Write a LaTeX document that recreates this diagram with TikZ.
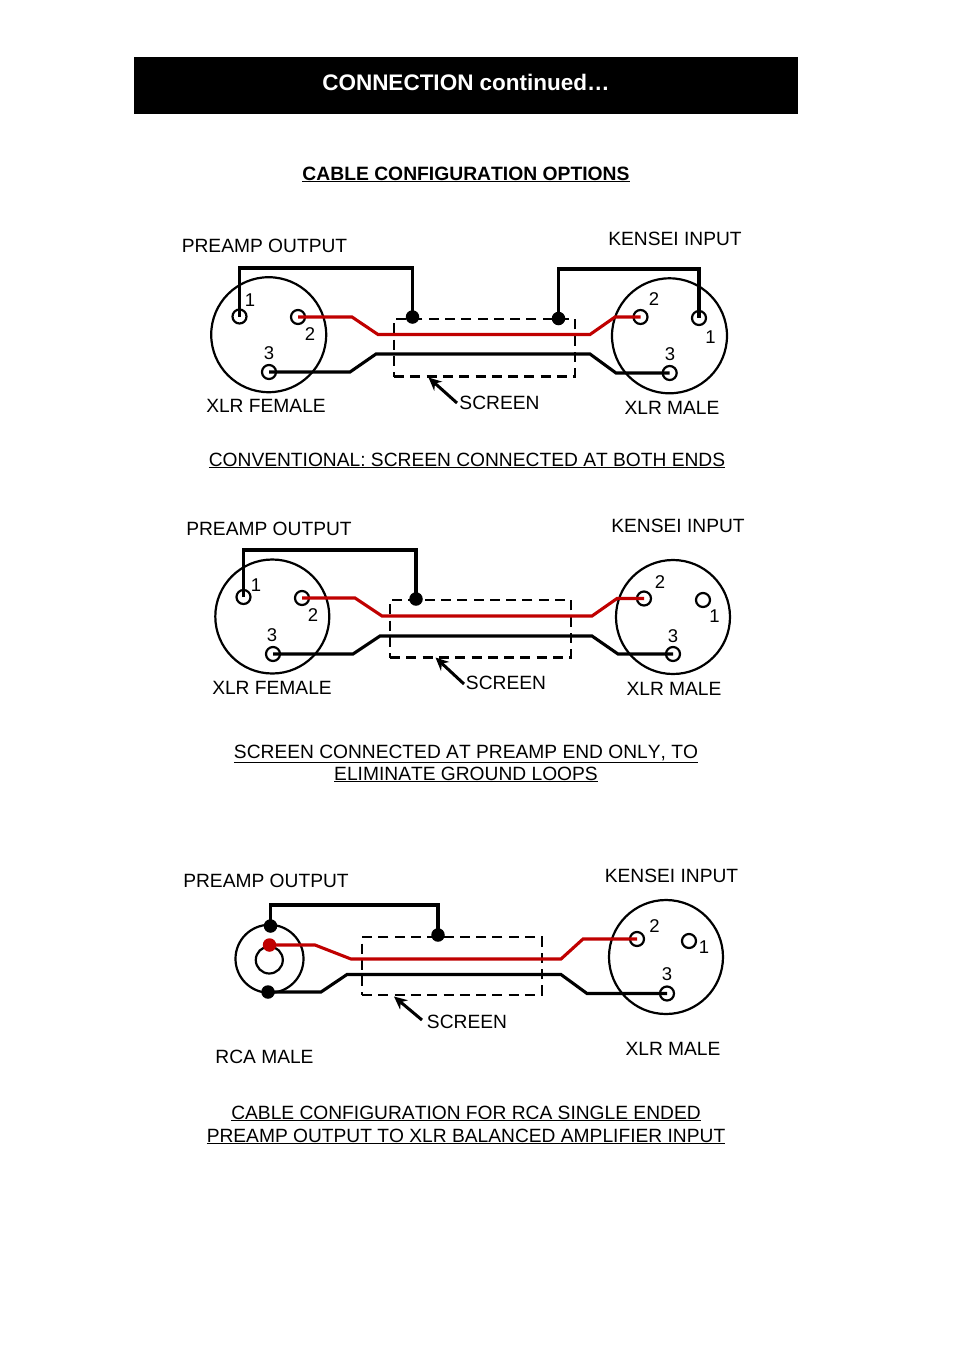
\documentclass[tikz,border=0pt]{standalone}
\usepackage{fontspec}
\setmainfont[Kerning=Off]{Liberation Sans}
\usetikzlibrary{arrows.meta}
\definecolor{wirered}{HTML}{C00000}
\tikzset{
  x=1pt,y=-1pt,
  body/.style={circle,draw,line width=2.2pt,minimum size=#1,inner sep=0pt},
  pin/.style={circle,draw,line width=2.2pt,minimum size=14pt,inner sep=0pt},
  dot/.style={circle,fill=#1,minimum size=13.5pt,inner sep=0pt},
  dot/.default=black,
  wire/.style={line width=3.1pt,line join=miter},
  redwire/.style={wire,draw=wirered},
  screenbox/.style={draw,line width=2.2pt,dash pattern=on 10pt off 6.3pt,minimum width=#1,minimum height=57.5pt,inner sep=0pt},
  lbl/.style={anchor=base,font=\fontsize{19.2}{22}\selectfont,inner sep=0pt},
  num/.style={anchor=base,font=\fontsize{18.5}{22}\selectfont,inner sep=0pt},
  head/.style={anchor=base,font=\fontsize{19.3}{24}\selectfont\bfseries,inner sep=0pt},
  pointer/.style={line width=3pt,-{Stealth[length=13pt,width=12pt]}}
}
\begin{document}
\begin{tikzpicture}
\useasboundingbox (0,0) rectangle (954,1350);
\fill[white] (0,0) rectangle (954,1350);
\node[fill=black,minimum width=664pt,minimum height=57pt,inner sep=0pt] (banner) at (466,85.5) {};
\node[head,text=white,font=\fontsize{22.5}{26}\selectfont\bfseries] (title) at (466,90) {CONNECTION continued…};
\node[head] (sub) at (466,180) {\underline{CABLE CONFIGURATION OPTIONS}};

% --- first
\node[body=115pt] (a1) at (268.7,334.7) {};
\node[pin] (a1p1) at (239.5,316.5) {};
\node[pin] (a1p2) at (298,317) {};
\node[pin] (a1p3) at (269,372) {};
\node[body=115pt] (a2) at (669.5,335.8) {};
\node[pin] (a2p2) at (640.5,317) {};
\node[pin] (a2p1) at (699,318) {};
\node[pin] (a2p3) at (669.7,373) {};
\node[screenbox=181pt] (abox) at (484.5,347.8) {};
\node[dot] (ad1) at (412.5,317) {};
\node[dot] (ad2) at (558.5,318.5) {};
\draw[wire] (a1p1.center) -- (239.5,268) -- (412.5,268) -- (ad1.center);
\draw[wire] (ad2.center) -- (558.5,269) -- (699,269) -- (a2p1.center);
\draw[redwire] (a1p2.center) -- (352,317) -- (378,334.5) -- (590,334.5) -- (615,317) -- (a2p2.center);
\draw[wire] (a1p3.center) -- (350,372) -- (376,354) -- (590,354) -- (616,373) -- (a2p3.center);
\coordinate (atail) at (457,403);
\coordinate (atip) at (428.5,377.5);
\draw[pointer] (atail) -- (atip);
\node[lbl] (apre) at (264.5,252) {PREAMP OUTPUT};
\node[lbl] (aken) at (675,245) {KENSEI INPUT};
\node[lbl] (axf) at (266,412) {XLR FEMALE};
\node[lbl] (asc) at (499.5,409) {SCREEN};
\node[lbl] (axm) at (672,414) {XLR MALE};
\node[lbl] (acap) at (467,466) {\underline{CONVENTIONAL: SCREEN CONNECTED AT BOTH ENDS}};
\node[num] (an1) at (250,306.5) {1};
\node[num] (an2) at (310,340) {2};
\node[num] (an3) at (269,359) {3};
\node[num] (an4) at (654,305) {2};
\node[num] (an5) at (710.5,343.5) {1};
\node[num] (an6) at (670,360) {3};

% --- second
\node[body=114pt] (b1) at (272.3,616.5) {};
\node[pin] (b1p1) at (243.5,597) {};
\node[pin] (b1p2) at (302,598) {};
\node[pin] (b1p3) at (273,654) {};
\node[body=114pt] (b2) at (673,617) {};
\node[pin] (b2p2) at (644,598.5) {};
\node[pin] (b2p1) at (703,600) {};
\node[pin] (b2p3) at (673,654) {};
\node[screenbox=181pt] (bbox) at (480.5,628.8) {};
\node[dot] (bd1) at (416,599) {};
\draw[wire] (b1p1.center) -- (243.5,550) -- (416,550) -- (bd1.center);
\draw[redwire] (b1p2.center) -- (355,598) -- (382,616) -- (592,616) -- (617,598.5) -- (b2p2.center);
\draw[wire] (b1p3.center) -- (353,654) -- (380,636) -- (592,636) -- (618,654) -- (b2p3.center);
\coordinate (btail) at (464,684);
\coordinate (btip) at (435.5,657.5);
\draw[pointer] (btail) -- (btip);
\node[lbl] (bpre) at (269,535) {PREAMP OUTPUT};
\node[lbl] (bken) at (678,532) {KENSEI INPUT};
\node[lbl] (bxf) at (272,694) {XLR FEMALE};
\node[lbl] (bsc) at (506,689) {SCREEN};
\node[lbl] (bxm) at (674,695) {XLR MALE};
\node[lbl] (bcap1) at (466,758) {\underline{SCREEN CONNECTED AT PREAMP END ONLY, TO}};
\node[lbl] (bcap2) at (466,780) {\underline{ELIMINATE GROUND LOOPS}};
\node[num] (bn1) at (256,591) {1};
\node[num] (bn2) at (313,621) {2};
\node[num] (bn3) at (272,641) {3};
\node[num] (bn4) at (660,588) {2};
\node[num] (bn5) at (714.5,622) {1};
\node[num] (bn6) at (673,642) {3};

% --- third
\node[body=68pt] (c1) at (269.5,958.8) {};
\node[body=27pt] (c1i) at (269.3,960) {};
\node[dot] (cdt) at (270.5,926) {};
\node[dot] (cdb) at (268,992) {};
\node[dot=wirered] (cdr) at (269.5,945) {};
\node[body=114pt] (c2) at (666,957) {};
\node[pin] (c2p2) at (637,939) {};
\node[pin] (c2p1) at (689,941) {};
\node[pin] (c2p3) at (667,993.5) {};
\node[screenbox=180pt] (cbox) at (452,966) {};
\node[dot] (cd1) at (438,935) {};
\draw[wire] (cdt.center) -- (270.5,905) -- (438,905) -- (cd1.center);
\draw[redwire] (cdr.center) -- (315,945) -- (351,959) -- (561,959) -- (583,939) -- (c2p2.center);
\draw[wire] (cdb.center) -- (321,992) -- (347,974.5) -- (561,974.5) -- (587,993.5) -- (c2p3.center);
\coordinate (ctail) at (422,1020);
\coordinate (ctip) at (394,996.5);
\draw[pointer] (ctail) -- (ctip);
\node[lbl] (cpre) at (266,887) {PREAMP OUTPUT};
\node[lbl] (cken) at (671.5,882) {KENSEI INPUT};
\node[lbl] (crm) at (264.5,1063) {RCA MALE};
\node[lbl] (csc) at (467,1028) {SCREEN};
\node[lbl] (cxm) at (673,1055) {XLR MALE};
\node[lbl] (ccap1) at (466,1119) {\underline{CABLE CONFIGURATION FOR RCA SINGLE ENDED}};
\node[lbl] (ccap2) at (466,1142) {\underline{PREAMP OUTPUT TO XLR BALANCED AMPLIFIER INPUT}};
\node[num] (cn1) at (654.5,932) {2};
\node[num] (cn2) at (704,953) {1};
\node[num] (cn3) at (667,980) {3};
\end{tikzpicture}
\end{document}
